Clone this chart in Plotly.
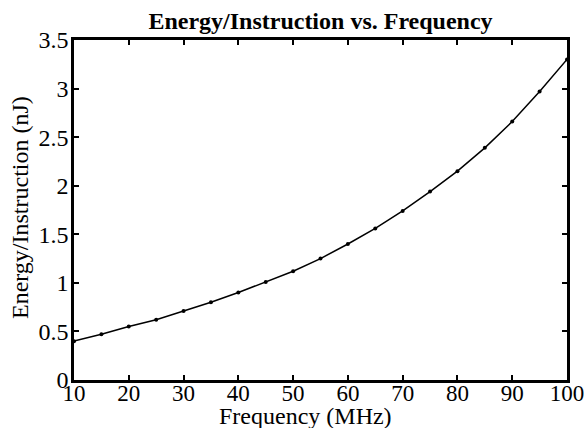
import plotly.graph_objects as go

freq_mhz = [10, 15, 20, 25, 30, 35, 40, 45, 50, 55, 60, 65, 70, 75, 80, 85, 90, 95, 100]
energy_nj = [0.40, 0.47, 0.55, 0.62, 0.71, 0.80, 0.90, 1.01, 1.12, 1.25, 1.40, 1.56, 1.74, 1.94, 2.15, 2.39, 2.66, 2.97, 3.30]

x_ticks = [10, 20, 30, 40, 50, 60, 70, 80, 90, 100]
y_ticks = [0, 0.5, 1, 1.5, 2, 2.5, 3, 3.5]
y_tick_labels = ["0", "0.5", "1", "1.5", "2", "2.5", "3", "3.5"]

font_family = "Liberation Serif, Times New Roman, serif"

L, R, T, B = 74, 20, 40, 48
W, H = 587, 428
pw, ph = W - L - R, H - T - B

fig = go.Figure()
fig.add_trace(go.Scatter(
    x=freq_mhz, y=energy_nj, mode="lines+markers",
    line=dict(color="black", width=1.5),
    marker=dict(color="black", size=4),
    showlegend=False,
))

axis_common = dict(
    showline=True, linecolor="black", linewidth=2.5, mirror="ticks",
    ticks="inside", ticklen=5, tickwidth=2, tickcolor="black",
    showgrid=False, zeroline=False, automargin=False,
)

fig.update_layout(
    width=W, height=H,
    margin=dict(l=L, r=R, t=T, b=B),
    paper_bgcolor="white", plot_bgcolor="white",
    title=dict(text="<b>Energy/Instruction vs. Frequency</b>",
               font=dict(family=font_family, size=24, color="black"),
               x=0.5, xanchor="center", xref="paper",
               y=1 - 21 / H, yanchor="middle", yref="container"),
    xaxis=dict(range=[10, 100], tickvals=x_ticks, ticklabelstandoff=-9,
               tickfont=dict(family=font_family, size=23, color="black"), **axis_common),
    yaxis=dict(range=[0, 3.5], tickvals=y_ticks, ticktext=y_tick_labels,
               ticklabelstandoff=-2,
               tickfont=dict(family=font_family, size=24, color="black"), **axis_common),
)

fig.add_annotation(text="Frequency (MHz)", showarrow=False,
                   xref="paper", yref="paper",
                   x=(305 - L) / pw, y=(H - B - 416) / ph,
                   xanchor="center", yanchor="middle",
                   font=dict(family=font_family, size=24, color="black"))
fig.add_annotation(text="Energy/Instruction (nJ)", showarrow=False, textangle=-90,
                   xref="paper", yref="paper",
                   x=(20 - L) / pw, y=(H - B - 208) / ph,
                   xanchor="center", yanchor="middle",
                   font=dict(family=font_family, size=24, color="black"))

fig.write_html("out.html", config={"displayModeBar": False},
               post_script="document.body.style.margin='0';")
